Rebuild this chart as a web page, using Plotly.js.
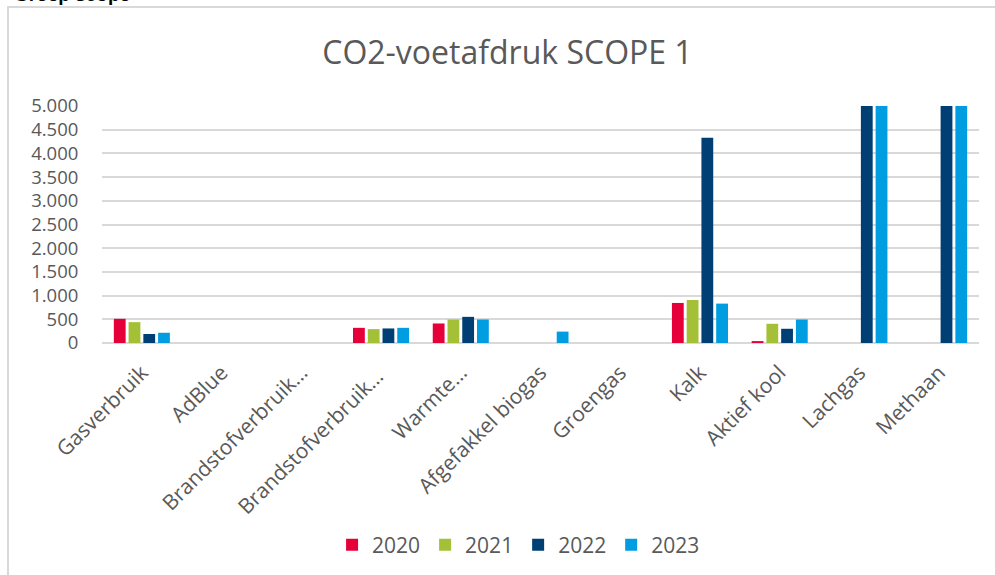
<!DOCTYPE html>
<html>
<head>
<meta charset="utf-8">
<script src="https://cdn.plot.ly/plotly-3.0.1.min.js"></script>
<style>
  html, body { margin: 0; padding: 0; background: #fff; }
  #wrap { position: relative; width: 995px; height: 575px; overflow: hidden; }
  #frame { position: absolute; left: 7px; top: 6px; width: 990px; height: 580px;
           border-left: 2px solid #d9d9d9; border-top: 2px solid #d9d9d9; }
  #cap { position: absolute; left: 14px; top: -16px; font: bold 19px "Liberation Sans", Arial, sans-serif; color: #000; }
  #chart { position: absolute; left: 0; top: 0; width: 995px; height: 575px; }
</style>
</head>
<body>
<div id="wrap">
  <div id="cap">Groep scope</div>
  <div id="frame"></div>
  <div id="chart"></div>
</div>
<script>
const categories = ["Gasverbruik", "AdBlue", "Brandstofverbruik…", "Brandstofverbruik… ", "Warmte…",
  "Afgefakkel biogas", "Groengas", "Kalk", "Aktief kool", "Lachgas", "Methaan"];
const years = ["2020", "2021", "2022", "2023"];
const v2020 = [510, null, null, 320, 412, null, null, 845, 40, null, null];
const v2021 = [440, null, null, 293, 496, null, null, 907, 405, null, null];
const v2022 = [190, null, null, 307, 552, null, null, 4330, 300, 9000, 9000];
const v2023 = [216, null, null, 320, 496, 240, null, 831, 496, 9000, 9000];
const colors = ["#e6003a", "#a3c037", "#003f74", "#009ee0"];
const tickVals = [0, 500, 1000, 1500, 2000, 2500, 3000, 3500, 4000, 4500, 5000];

const series = [v2020, v2021, v2022, v2023];
const traces = series.map((vals, i) => ({
  type: "bar",
  name: years[i],
  x: categories,
  y: vals,
  marker: { color: colors[i], line: { width: 0 } },
  hoverinfo: "x+y+name"
}));

const font = "'Open Sans', 'Noto Sans', sans-serif";
const layout = {
  width: 995, height: 575,
  paper_bgcolor: "rgba(0,0,0,0)", plot_bgcolor: "rgba(0,0,0,0)",
  margin: { l: 102, r: 16, t: 106, b: 231 },
  separators: ",.",
  font: { family: font, color: "#595959" },
  title: { text: "CO2-voetafdruk SCOPE 1", x: 0.51, xanchor: "center", y: 0.908, yanchor: "middle",
           font: { family: font, size: 32, color: "#595959" } },
  barmode: "group",
  bargap: 0.26,
  bargroupgap: 0.2,
  xaxis: {
    type: "category",
    tickangle: -45,
    tickfont: { family: font, size: 21, color: "#595959" },
    showgrid: false, showline: false, zeroline: false,
    ticks: "outside", ticklen: 8, tickcolor: "rgba(0,0,0,0)",
    automargin: false
  },
  yaxis: {
    range: [0, 5000],
    tickvals: tickVals,
    tickformat: ",d",
    tickfont: { family: font, size: 18.5, color: "#595959" },
    showgrid: true, gridcolor: "#d9d9d9", gridwidth: 2,
    zeroline: true, zerolinecolor: "#d9d9d9", zerolinewidth: 2,
    showline: false,
    ticks: "outside", ticklen: 19, tickcolor: "rgba(0,0,0,0)",
    automargin: false
  },
  showlegend: true,
  legend: {
    orientation: "h", x: 0.475, xanchor: "center", y: -0.845, yanchor: "middle",
    font: { family: font, size: 21, color: "#595959" },
    itemwidth: 30, traceorder: "normal"
  }
};

Plotly.newPlot("chart", traces, layout, { displayModeBar: false, staticPlot: true });
</script>
</body>
</html>
